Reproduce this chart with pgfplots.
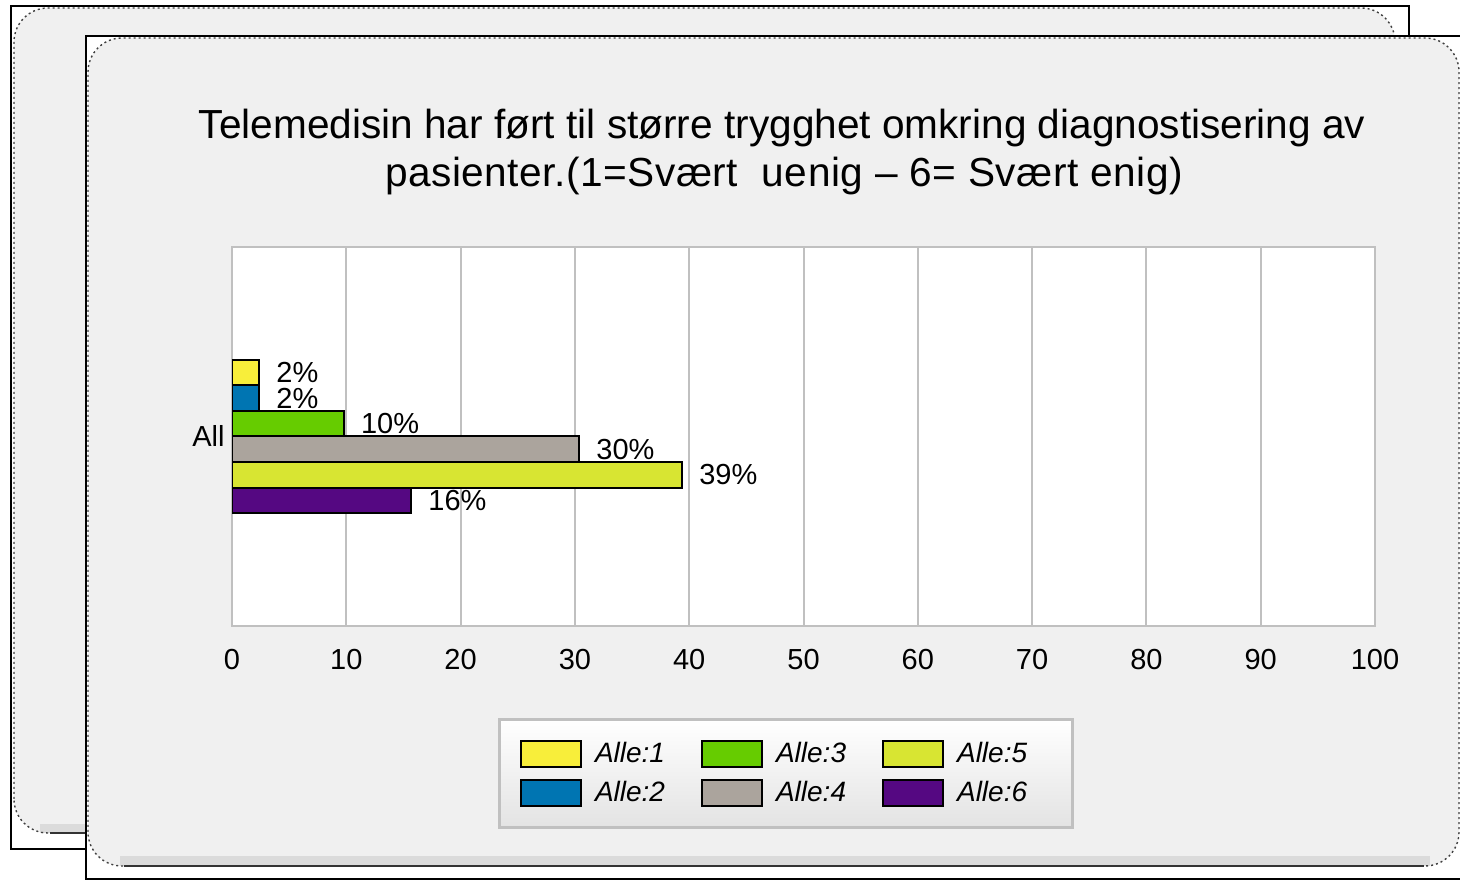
\documentclass[border=0pt]{standalone}
\usepackage{pgfplots}
\pgfplotsset{compat=1.18}
\usepackage{fontspec}
\setmainfont{Liberation Sans}
\definecolor{gridgray}{HTML}{C0C0C0}
\definecolor{panel}{HTML}{F0F0F0}
\definecolor{cA}{HTML}{F8EE3A}
\definecolor{cB}{HTML}{0075B2}
\definecolor{cC}{HTML}{66CC00}
\definecolor{cD}{HTML}{ABA49D}
\definecolor{cE}{HTML}{D8E532}
\definecolor{cF}{HTML}{550882}
\newcommand{\lbl}{\fontsize{14.5}{17}\selectfont}
\newcommand{\leg}{\fontsize{14}{16}\selectfont\itshape}
\newcommand{\ttl}{\fontsize{20.3}{24}\selectfont}
\begin{document}
\begin{tikzpicture}
\useasboundingbox (0,0) rectangle (730pt,440.5pt);
% back panel
\fill[white] (5.5pt,16pt) rectangle (704.5pt,437.5pt);
\draw[black, line width=1pt] (5.5pt,16pt) rectangle (704.5pt,437.5pt);
\fill[panel] (7pt,24pt) [rounded corners=17pt] rectangle (697.5pt,436.5pt);
\fill[gray!28] (20pt,24pt) rectangle (690pt,28.5pt);
\draw[black!75, line width=0.7pt, dash pattern=on 1pt off 1.5pt, rounded corners=17pt] (7pt,24pt) rectangle (697.5pt,436.5pt);
\draw[black!80, line width=1pt] (25pt,24pt) -- (685pt,24pt);
% front panel
\fill[white] (43pt,1pt) rectangle (735pt,422.5pt);
\draw[black, line width=1pt] (43pt,1pt) rectangle (735pt,422.5pt);
\fill[panel, rounded corners=17pt] (44pt,7.5pt) rectangle (729.5pt,421.5pt);
\fill[gray!28] (60pt,7.5pt) rectangle (715pt,12.5pt);
\draw[black!75, line width=0.7pt, dash pattern=on 1pt off 1.5pt, rounded corners=17pt] (44pt,7.5pt) rectangle (729.5pt,421.5pt);
\draw[black!80, line width=1pt] (62pt,7.5pt) -- (712pt,7.5pt);
% title
\node[anchor=base, inner sep=0pt, font=\ttl] at (391pt,371pt) {Telemedisin har ført til større trygghet omkring diagnostisering av};
\node[anchor=base, inner sep=0pt, font=\ttl] at (392pt,347pt) {\addfontfeature{LetterSpace=1.3}pasienter.(1=Svært\ \ uenig – 6=\ Svært enig)};
\begin{axis}[
  at={(116pt,127.5pt)}, anchor=south west,
  width=571.5pt, height=189.5pt, scale only axis,
  xmin=0, xmax=100, ymin=-1, ymax=1,
  xtick={0,10,...,100}, ytick={0}, yticklabels={All},
  xmajorgrids, grid style={draw=gridgray, line width=1pt},
  axis line style={draw=gridgray, line width=1pt},
  major tick length=0pt,
  axis background/.style={fill=white},
  xbar, bar shift=0pt, bar width=0.1346,
  every axis plot/.append style={draw=black, line width=1pt},
  point meta=x,
  nodes near coords={\pgfmathprintnumber[fixed,precision=0]{\pgfplotspointmeta}\%},
  nodes near coords style={anchor=west, inner sep=0pt, xshift=8pt, font=\lbl, text=black},
  ticklabel style={font=\lbl},
  /pgf/number format/assume math mode=true,
  xticklabel style={anchor=north, inner sep=0pt, yshift=-11.5pt},
  yticklabel style={anchor=east, inner sep=0pt, xshift=-3.5pt},
  legend columns=3,
  legend cell align=left,
  legend style={at={(0.4843,-0.2427)}, anchor=north, draw=gridgray, line width=1.5pt,
    top color=white, bottom color=gray!22, inner xsep=10.5pt, inner ysep=9.25pt, font=\leg,
    row sep=4pt,
    /tikz/every odd column/.append style={column sep=4.5pt},
    /tikz/every even column/.append style={column sep=16pt}},
  legend image code/.code={\draw[#1, line width=1pt] (0pt,-6.5pt) rectangle (30pt,6.5pt);},
]
\addplot[fill=cA] coordinates {(2.4,0.3365)};
\addplot[fill=cC] coordinates {(9.8,0.0673)};
\addplot[fill=cE] coordinates {(39.4,-0.2019)};
\addplot[fill=cB] coordinates {(2.4,0.2019)};
\addplot[fill=cD] coordinates {(30.4,-0.0673)};
\addplot[fill=cF] coordinates {(15.7,-0.3365)};
\legend{Alle:1,Alle:3,\makebox[45pt][l]{Alle:5},Alle:2,Alle:4,\makebox[45pt][l]{Alle:6}}
\end{axis}
\end{tikzpicture}
\end{document}
